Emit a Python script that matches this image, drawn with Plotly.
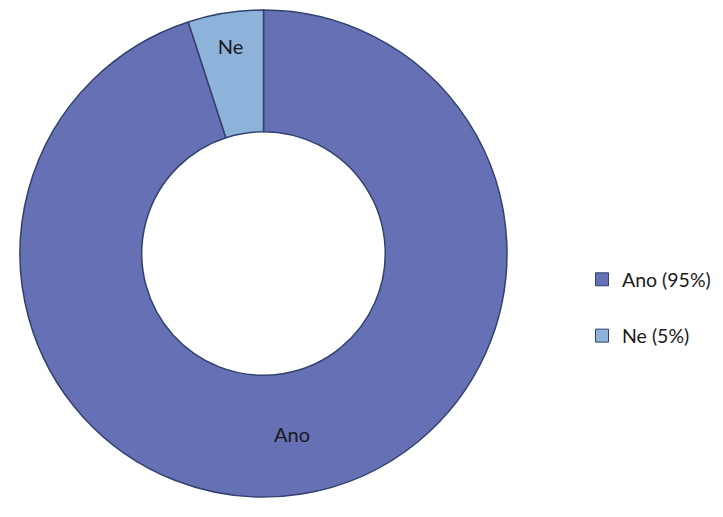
import plotly.graph_objects as go

categories = ["Ano", "Ne"]
values = [95, 5]
legend_labels = ["Ano (95%)", "Ne (5%)"]
colors = ["#6571B4", "#8DB3DB"]

W, H = 723, 517

fig = go.Figure()
fig.add_trace(go.Pie(
    labels=categories,
    values=values,
    text=categories,
    textinfo="text",
    textposition="inside",
    insidetextorientation="horizontal",
    hole=0.5,
    sort=False,
    direction="clockwise",
    rotation=0,
    marker=dict(colors=colors, line=dict(color="#34416E", width=1.5)),
    textfont=dict(family="Lato, Open Sans, sans-serif", size=20, color="#1a1a1a"),
    showlegend=False,
    domain=dict(x=[8 / W, 519 / W], y=[(H - 497) / H, (H - 10) / H]),
))

for name, col in zip(legend_labels, colors):
    fig.add_trace(go.Scatter(
        x=[None], y=[None], mode="markers", name=name,
        legendgroup=name,
        marker=dict(symbol="square", size=13, color=col,
                    line=dict(color="#34416E", width=1)),
    ))

fig.update_layout(
    width=W, height=H,
    margin=dict(l=0, r=0, t=0, b=0),
    paper_bgcolor="white",
    plot_bgcolor="white",
    xaxis=dict(visible=False),
    yaxis=dict(visible=False),
    legend=dict(
        x=0.805, y=0.405, xanchor="left", yanchor="middle",
        font=dict(family="Lato, Open Sans, sans-serif", size=19.5, color="#1a1a1a"),
        tracegroupgap=28,
        itemwidth=30,
        bgcolor="rgba(0,0,0,0)",
    ),
)

fig.write_html("out.html")
